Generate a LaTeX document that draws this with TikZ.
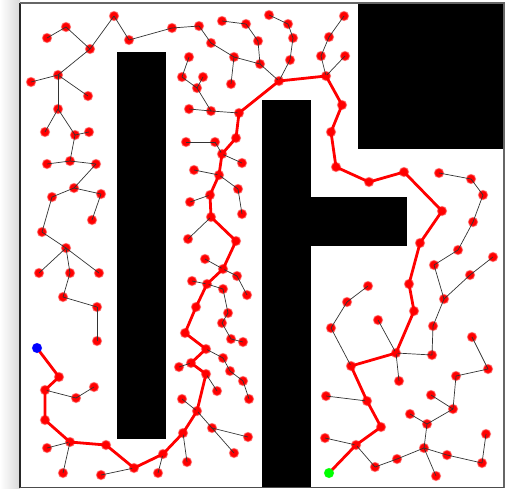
\documentclass[tikz,border=0pt]{standalone}
\usetikzlibrary{calc}
\begin{document}
\begin{tikzpicture}[x=1pt,y=-1pt,
  vtx/.style={circle, fill=red, inner sep=0pt, minimum size=9pt, draw=red!75, draw opacity=0.55, line width=1.3pt},
  tree/.style={black!80, line width=0.7pt},
  pathline/.style={red, line width=2.8pt, line join=round, line cap=round},
  obst/.style={fill=black}]
\useasboundingbox (0,0) rectangle (510,488);
% shadow and frame
\shade[left color=white, right color=black!15] (0,0) rectangle (20,488);
\fill[white] (20,3) rectangle (504,487);
% obstacles
\fill[obst] (117,52) rectangle (166,439);
\fill[obst] (262,100) rectangle (311,488);
\fill[obst] (311,197) rectangle (407,246);
\fill[obst] (358,3) rectangle (504,149);
\draw[black!85, line width=1.6pt] (20,3) -- (20,487.5);
\draw[black!60, line width=1.4pt] (20,3) -- (504,3) -- (504,487.5);
\draw[black!70, line width=1.4pt] (20,487.5) -- (504,487.5);
% nodes
\foreach \n/\x/\y in {
A1/114/16, A2/129/40, A3/66/27, A4/47/38, A5/90/49, A6/58/75, A7/31/82, A8/88/96,
A9/58/109, A10/45/132, A11/75/135, A12/89/132, A13/70/161, A14/47/164, A15/96/164,
B1/172/28, B2/199/26, B3/211/43, B4/222/21, B5/246/24, B6/258/41, B7/269/15, B8/288/24,
B9/293/38, B10/234/57, B11/260/64, B12/231/84, B13/290/60, B14/279/81, B15/189/57,
B16/182/77, B17/203/77, B18/197/88, B19/189/109, B20/211/111, B21/239/113,
B22/344/16, B23/329/37, B24/321/56, B25/345/56, B26/326/76, B27/342/105, B28/331/132,
B29/336/167, B30/236/138, B31/186/142, B32/215/142, B33/222/154, B34/242/163,
E2/194/170, E1/219/175, E4/238/189, E5/242/214, E6/210/195, E7/190/202, E8/211/217,
E9/188/239, E10/236/241, E11/205/259, E12/223/269, E13/237/276, E14/247/295,
E15/192/281, E16/207/284, E17/223/289, E18/196/307, E19/228/313,
H2/222/323, H1/185/333, H3/231/339, H4/243/342, H5/206/349, H6/223/358, H7/179/367,
H8/191/363, H9/230/371, H10/206/374, H11/243/381, H12/217/391, H13/249/399,
H14/182/399, H15/197/411, H16/212/428, H17/183/433, H18/248/437, H19/234/453,
G15/163/454, H21/187/462, G14/158/473,
D4/74/188, D5/52/197, D6/101/194, D7/92/220, D8/42/232, D9/66/248, D10/39/273,
D11/70/273, D12/99/273, D13/63/297, D14/97/307,
G1/97/341, G3/59/377, G4/45/390, G5/76/398, G6/94/387, G7/45/420,
G8/70/442, G9/47/448, G10/106/445, G11/63/473, G12/101/475, G13/134/468,
F2/369/182, F3/404/172, F4/442/211, F5/420/243, F6/409/284, F7/414/311,
F8/439/173, F9/471/179, F10/483/195, F11/473/222, F12/458/250, F13/434/265,
F14/444/299, F15/470/275, F16/493/257, F17/433/326, F18/368/286, F19/347/302,
F20/331/328, F21/378/320,
I4/472/337, I5/396/353, I6/432/355, I7/351/366, I8/488/369, I9/456/376, I10/399/381,
I11/326/396, I12/367/401, I13/431/395, I14/453/409, I15/410/414, I16/427/424,
I17/381/427, I18/486/434, I19/325/438, I20/356/445, I21/424/448, I22/447/455,
I23/397/459, I24/482/463, I25/375/467, I26/436/476}
  \node[vtx] (\n) at (\x,\y) {};
\node[vtx, fill=blue, draw=blue!75] (G2) at (37,348) {};
\node[vtx, fill=green, draw=green!75] (I27) at (329,473) {};
% tree edges
\foreach \a/\b in {
A4/A3, A3/A5, A5/A1, A1/A2, A2/B1, A5/A6, A6/A7, A6/A8, A6/A9, A9/A10, A9/A11,
A11/A12, A11/A13, A13/A14, A13/A15, A15/D4, D4/D5, D4/D6, D6/D7, D5/D8, D8/D9,
D9/D10, D9/D11, D9/D12, D11/D13, D13/D14, D14/G1,
B1/B2, B2/B3, B3/B10, B10/B11, B10/B12, B11/B14, B4/B5, B5/B6, B6/B11, B7/B8,
B8/B9, B9/B13, B13/B14, B15/B16, B16/B18, B17/B18, B18/B20, B19/B20, B20/B21,
B22/B23, B23/B24, B24/B26, B25/B26, B31/B32, B32/B33, B33/B34,
E1/E2, E1/E4, E4/E5, E6/E7, E8/E9, E12/E11, E12/E13, E13/E14, E16/E15, E16/E17,
E17/E19, E19/H2, H2/H3, H3/H4, H5/H6, H6/H9, H9/H11, H11/H13, H10/H12, H8/H7,
H14/H15, H15/H16, H16/H19, H16/H18, H17/H21, G15/G14,
G4/G5, G5/G6, G8/G9, G8/G11, G13/G12,
F8/F9, F9/F10, F10/F11, F11/F12, F12/F13, F13/F14, F14/F15, F15/F16, F14/F17,
F18/F19, F19/F20, F20/I7, F21/I5, I5/I6, I6/F17, I5/I10, I11/I12, I19/I20,
I20/I25, I25/I23, I23/I21, I21/I16, I16/I15, I16/I14, I14/I13, I14/I9, I9/I8,
I8/I4, I21/I22, I22/I24, I24/I18, I21/I26}
  \draw[tree] (\a.center) -- (\b.center);
% solution path
\draw[pathline] (G2.center) -- (G3.center) -- (G4.center) -- (G7.center) -- (G8.center)
  -- (G10.center) -- (G13.center) -- (G15.center) -- (H17.center) -- (H15.center)
  -- (H10.center) -- (H8.center) -- (H5.center) -- (H1.center) -- (E18.center)
  -- (E16.center) -- (E12.center) -- (E10.center) -- (E8.center) -- (E6.center)
  -- (E1.center) -- (B33.center) -- (B30.center) -- (B21.center) -- (B14.center)
  -- (B26.center) -- (B27.center) -- (B28.center) -- (B29.center) -- (F2.center)
  -- (F3.center) -- (F4.center) -- (F5.center) -- (F6.center) -- (F7.center)
  -- (I5.center) -- (I7.center) -- (I12.center) -- (I17.center) -- (I20.center)
  -- (I27.center);
\fill[blue] (G2) circle (4.8pt);
\fill[green] (I27) circle (4.8pt);
\end{tikzpicture}
\end{document}
